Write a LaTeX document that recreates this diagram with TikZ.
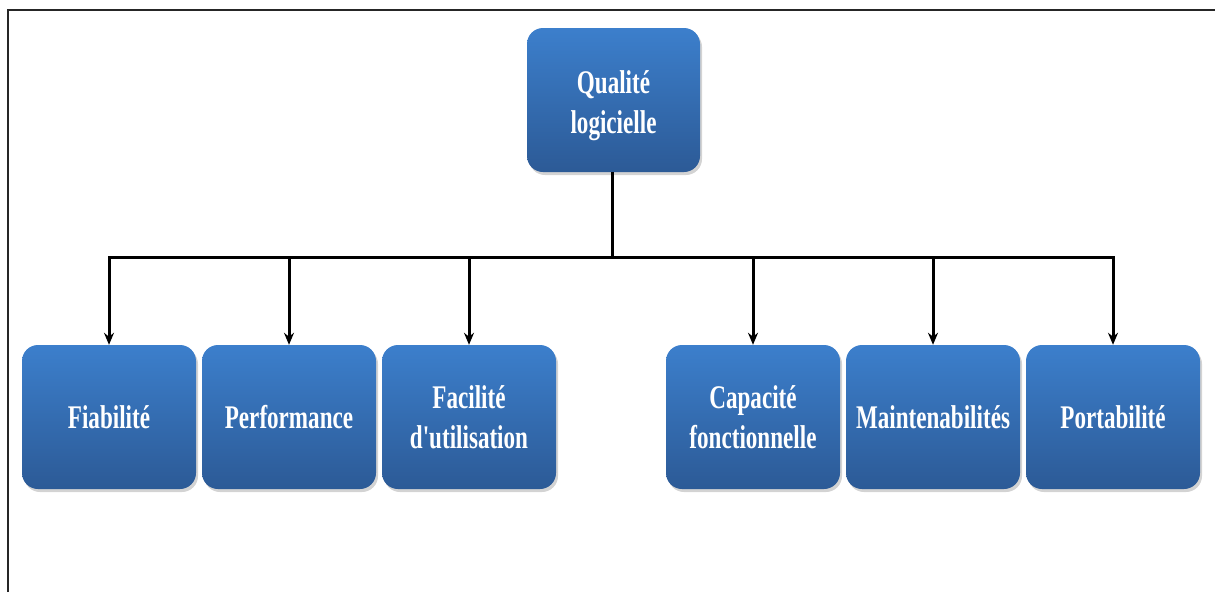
\documentclass[tikz,border=0pt]{standalone}
\usepackage{fontspec}
\newfontfamily\boxfont{Liberation Serif}[FakeStretch=0.7]
\usetikzlibrary{shadows,arrows.meta}

\definecolor{boxtop}{RGB}{60,127,204}
\definecolor{boxbottom}{RGB}{44,90,150}

\tikzset{
  qbox/.style={
    rounded corners=16pt,
    minimum width=174pt, minimum height=144pt,
    top color=boxtop, bottom color=boxbottom,
    draw=none,
    drop shadow={shadow xshift=2pt, shadow yshift=-3pt, opacity=0.35},
    text=white, align=center, inner sep=2pt,
    font=\boxfont\bfseries\fontsize{33}{40}\selectfont
  },
  link/.style={line width=3pt, black},
  branch/.style={link, -{Stealth[length=12pt,width=10pt]}},
  frame/.style={line width=2.6pt, black!85}
}

\begin{document}
\begin{tikzpicture}[x=1pt,y=-1pt]
  \useasboundingbox (0,0) rectangle (1215,592);

  % outer frame (top and left edges)
  \draw[frame] (8,592) -- (8,10) -- (1215,10);

  % root (its two lines sit a little below the box centre)
  \node[qbox, minimum width=173pt] (root) at (613.5,100)
    {\raisebox{-5pt}[\height][\depth]{\begin{tabular}{@{}c@{}}Qualité\\logicielle\end{tabular}}};

  % characteristics
  \node[qbox] (fia) at (109,417) {Fiabilité};
  \node[qbox] (perf) at (289,417) {Performance};
  \node[qbox] (fac) at (469,417) {Facilité\\d'utilisation};
  \node[qbox] (cap) at (753,417) {Capacité\\fonctionnelle};
  \node[qbox] (main) at (933,417) {Maintenabilités};
  \node[qbox] (port) at (1113,417) {Portabilité};

  % tree connectors
  \coordinate (bus) at (612,257);
  \draw[link] (root.south -| bus) -- (bus);
  \foreach \c in {fia,perf,fac,cap,main,port}
    \draw[branch] (bus) -| (\c.north);
\end{tikzpicture}
\end{document}
